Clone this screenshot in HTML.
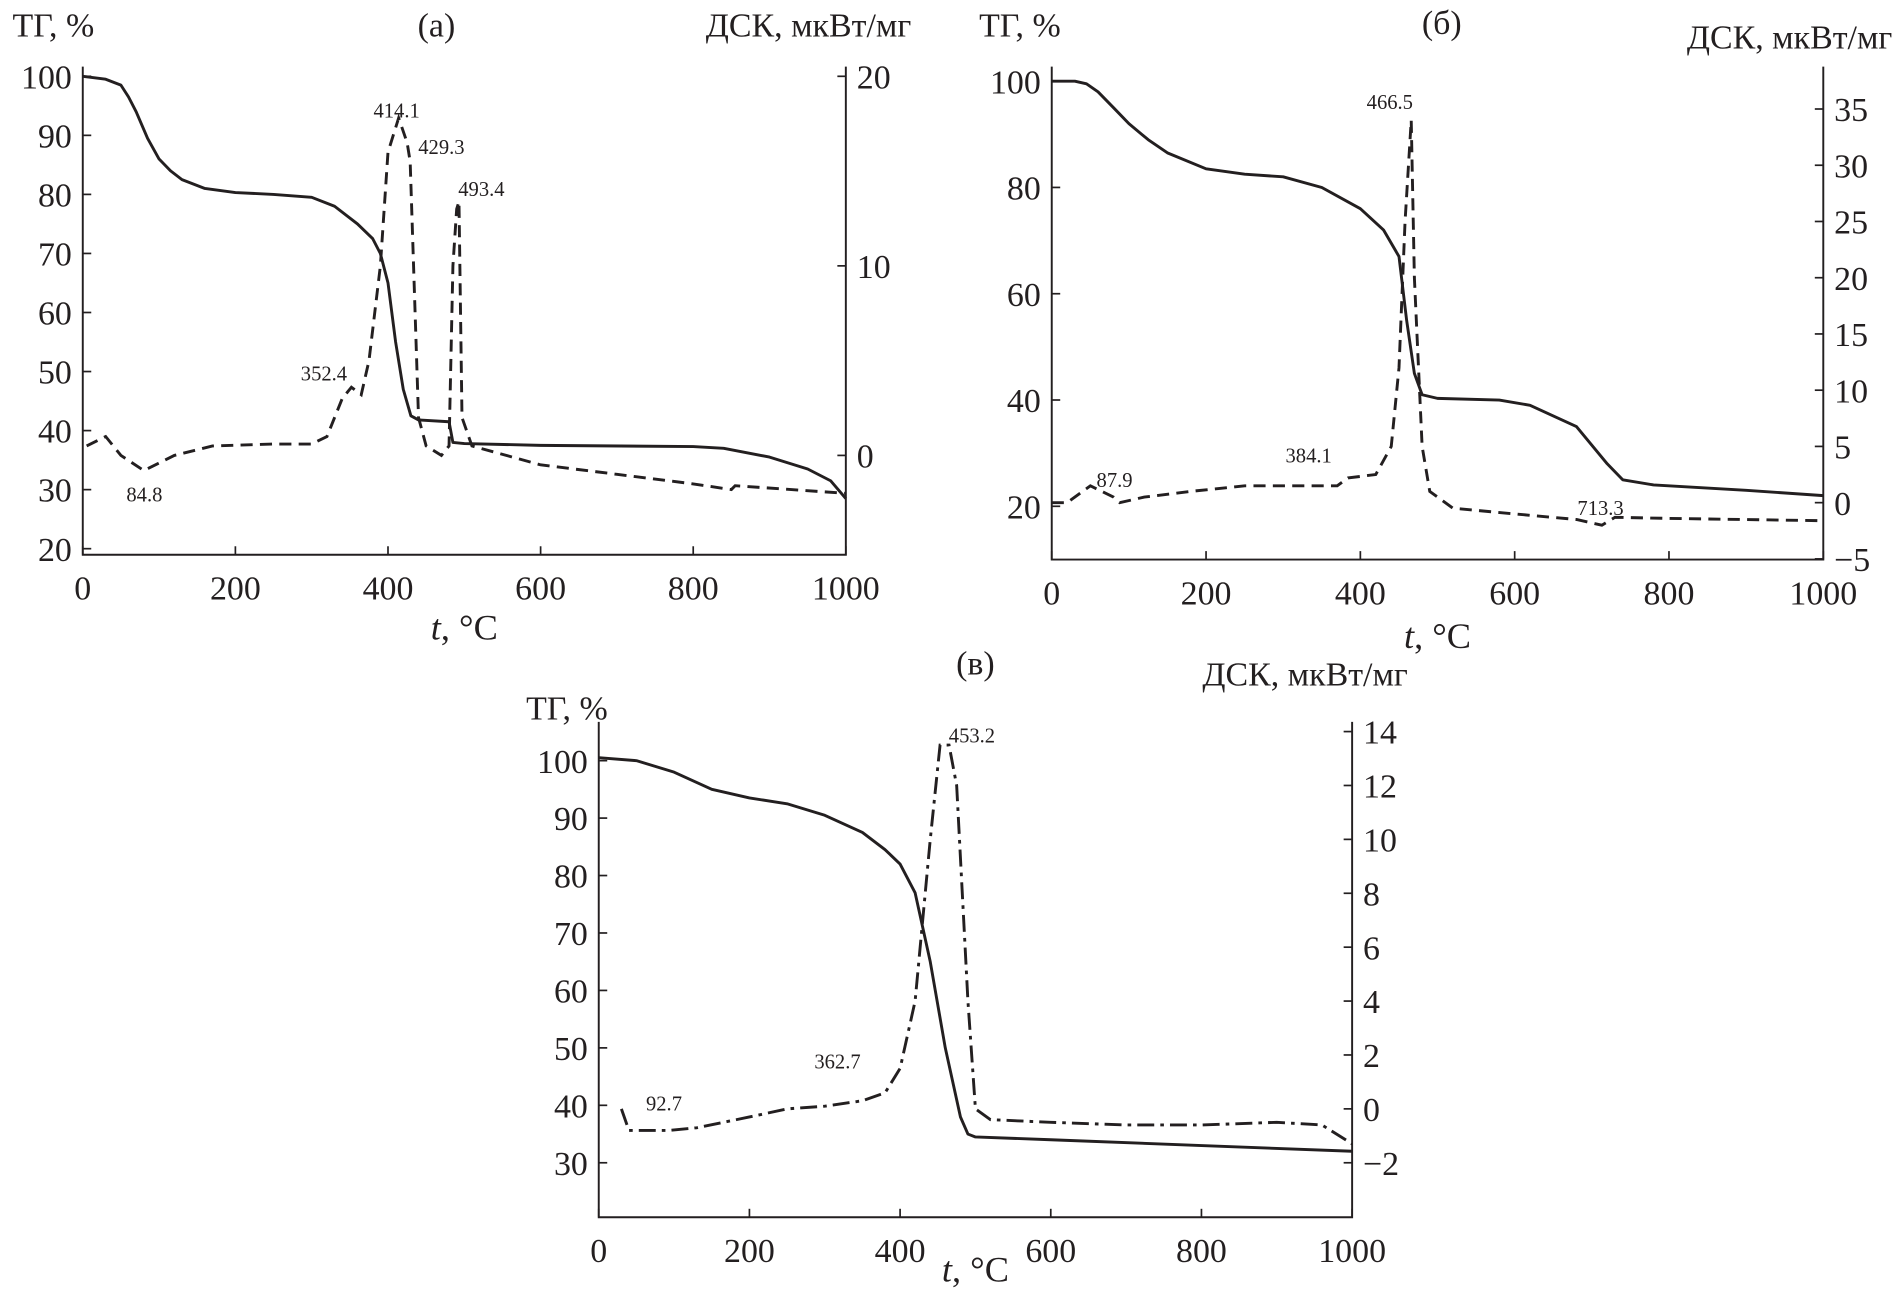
<!DOCTYPE html>
<html><head><meta charset="utf-8"><style>
html,body{margin:0;padding:0;background:#fff;}
svg{display:block;}
text{font-family:"Liberation Serif","Noto Serif CJK SC",serif;fill:#231f20;}
</style></head><body>
<svg id="chart" width="1900" height="1296" viewBox="0 0 1568 1070" xmlns="http://www.w3.org/2000/svg"></svg>
<script>
// Panel (a)
const tA = [0,30,50,60,70,85,100,115,130,160,200,250,300,330,360,380,390,400,410,420,430,440,480,485,500,600,800,840,900,950,980,1000];
const tgA = [100,99.5,98.5,96.5,94,89.5,86,84,82.5,81,80.3,80,79.5,78,75,72.5,70,65,55,47,42.5,41.8,41.5,38,37.8,37.5,37.3,37,35.5,33.5,31.5,28.5];
const dtA = [5,30,50,80,120,170,250,300,320,340,352,365,375,390,400,414,425,429,440,450,470,480,485,490,493,497,510,600,700,800,850,855,1000];
const dscA = [0.5,1,0,-0.8,0,0.5,0.6,0.6,1,3,3.6,3.2,5,10,16,17.8,16.5,15.5,2,0.5,0,0.5,10,13,13.4,2,0.5,-0.5,-1,-1.5,-1.8,-1.6,-2];
// Panel (б)
const tB = [0,30,45,60,80,100,125,150,200,250,300,350,400,430,450,460,470,480,500,580,620,680,720,740,780,900,1000];
const tgB = [100,100,99.5,98,95,92,89,86.5,83.5,82.5,82,80,76,72,67,55,45,41,40.3,40,39,35,28,25,24,23,22];
const dtB = [0,20,40,50,80,88,120,180,250,300,370,384,420,440,450,458,466,470,480,490,520,600,680,713,730,800,1000];
const dscB = [0,0,1,1.5,0.5,0,0.5,1,1.5,1.5,1.5,2.2,2.5,5,12,25,34,20,5,1,-0.5,-1,-1.5,-2,-1.3,-1.4,-1.6];
// Panel (в)
const tC = [0,50,100,150,200,250,300,350,380,400,420,440,460,480,490,500,600,800,1000];
const tgC = [100.5,100,98,95,93.5,92.5,90.5,87.5,84.5,82,77,65,50,38,35,34.5,34,33,32];
const dtC = [30,40,60,93,130,200,250,300,350,380,400,420,440,453,465,475,490,500,520,600,700,800,900,960,1000];
const dscC = [0,-0.8,-0.8,-0.8,-0.7,-0.3,0,0.1,0.3,0.6,1.5,4,10,13.5,13.5,12,4,0,-0.4,-0.5,-0.6,-0.6,-0.5,-0.6,-1.3];
const xTicks = [0,200,400,600,800,1000];

const NS="http://www.w3.org/2000/svg";
const svg=document.getElementById('chart');
function el(tag,attrs,parent){const e=document.createElementNS(NS,tag);for(const k in attrs)e.setAttribute(k,attrs[k]);(parent||svg).appendChild(e);return e;}
function txt(s,x,y,size,anchor,parent,name){const e=el('text',{x:x,y:y,'font-size':size,'text-anchor':anchor||'start'},parent);e.textContent=s;


return e;}

function panel(cfg){
  const g=el('g',{});
  
  
  const X=t=>cfg.x0+(cfg.x1-cfg.x0)*t/1000;
  const YL=v=>cfg.yl0+(v-cfg.lv0)*(cfg.yl1-cfg.yl0)/(cfg.lv1-cfg.lv0);
  const YR=v=>cfg.yr0+(v-cfg.rv0)*(cfg.yr1-cfg.yr0)/(cfg.rv1-cfg.rv0);
  const ax=el('path',{d:`M${cfg.x0},${cfg.top} V${cfg.bottom} H${cfg.x1} V${cfg.top}`,fill:'none',stroke:'#231f20','stroke-width':1.6},g);
  
  
  xTicks.forEach(t=>{el('line',{x1:X(t),x2:X(t),y1:cfg.bottom,y2:cfg.bottom-7,stroke:'#231f20','stroke-width':1.4},g);
    txt(String(t),X(t),cfg.bottom+37,28,'middle',g,'x-tick-label');});
  cfg.lTicks.forEach(v=>{el('line',{x1:cfg.x0,x2:cfg.x0+7,y1:YL(v),y2:YL(v),stroke:'#231f20','stroke-width':1.4},g);
    txt(String(v),cfg.x0-9,YL(v)+10,28,'end',g,'left-tick-label');});
  cfg.rTicks.forEach(v=>{el('line',{x1:cfg.x1,x2:cfg.x1-7,y1:YR(v),y2:YR(v),stroke:'#231f20','stroke-width':1.4},g);
    txt(v<0?'\u2212'+(-v):String(v),cfg.x1+9,YR(v)+10,28,'start',g,'right-tick-label');});
  const tg=el('path',{d:cfg.t.map((t,i)=>(i?'L':'M')+X(t).toFixed(1)+','+YL(cfg.tg[i]).toFixed(1)).join(' '),fill:'none',stroke:'#231f20','stroke-width':2.4,'stroke-linejoin':'round'},g);
  
  
  const ds=el('path',{d:cfg.dt.map((t,i)=>(i?'L':'M')+X(t).toFixed(1)+','+YR(cfg.dsc[i]).toFixed(1)).join(' '),fill:'none',stroke:'#231f20','stroke-width':2.4,'stroke-dasharray':cfg.dash},g);
  
  
  txt('ТГ, %',cfg.ltx,cfg.lty,28,'start',g,'left-axis-title');
  txt('ДСК, мкВт/мг',cfg.rtx,cfg.rty,28,'end',g,'right-axis-title');
  const xt=el('text',{x:(cfg.x0+cfg.x1)/2,y:cfg.xty,'font-size':30,'text-anchor':'middle'},g);
  xt.innerHTML='<tspan font-style="italic">t</tspan>, °C';
  
  
  txt(cfg.letter,cfg.lx,cfg.ly,28,'middle',g,'panel-letter');
  cfg.ann.forEach(a=>txt(a[0],a[1],a[2],17,'start',g,'peak-annotation'));
}

panel({name:'panel-a',x0:68,x1:698,top:55,bottom:458,lv0:100,lv1:20,yl0:63,yl1:453,rv0:20,rv1:0,yr0:63,yr1:376,
  lTicks:[20,30,40,50,60,70,80,90,100],rTicks:[0,10,20],t:tA,tg:tgA,dt:dtA,dsc:dscA,dash:'10,6',
  ltx:10,lty:30,rtx:752,rty:30,xty:528,
  letter:'(a)',lx:360,ly:30,ann:[['414.1',308,97],['429.3',345,127],['493.4',378,162],['352.4',248,314],['84.8',104,414]]});
panel({name:'panel-b',x0:868,x1:1505,top:55,bottom:462,lv0:100,lv1:20,yl0:67,yl1:418,rv0:35,rv1:0,yr0:90,yr1:415,
  lTicks:[20,40,60,80,100],rTicks:[-5,0,5,10,15,20,25,30,35],t:tB,tg:tgB,dt:dtB,dsc:dscB,dash:'10,6',
  ltx:808,lty:30,rtx:1562,rty:40,xty:535,
  letter:'(б)',lx:1190,ly:28,ann:[['466.5',1128,90],['384.1',1061,382],['87.9',905,402],['713.3',1302,425]]});
panel({name:'panel-c',x0:494,x1:1116,top:596,bottom:1005,lv0:100,lv1:30,yl0:628,yl1:960,rv0:14,rv1:-2,yr0:604,yr1:960,
  lTicks:[30,40,50,60,70,80,90,100],rTicks:[-2,0,2,4,6,8,10,12,14],t:tC,tg:tgC,dt:dtC,dsc:dscC,dash:'14,5,3,5',
  ltx:434,lty:594,rtx:1162,rty:566,xty:1058,
  letter:'(в)',lx:805,ly:557,ann:[['453.2',783,613],['362.7',672,882],['92.7',533,917]]});
</script>
</body></html>
